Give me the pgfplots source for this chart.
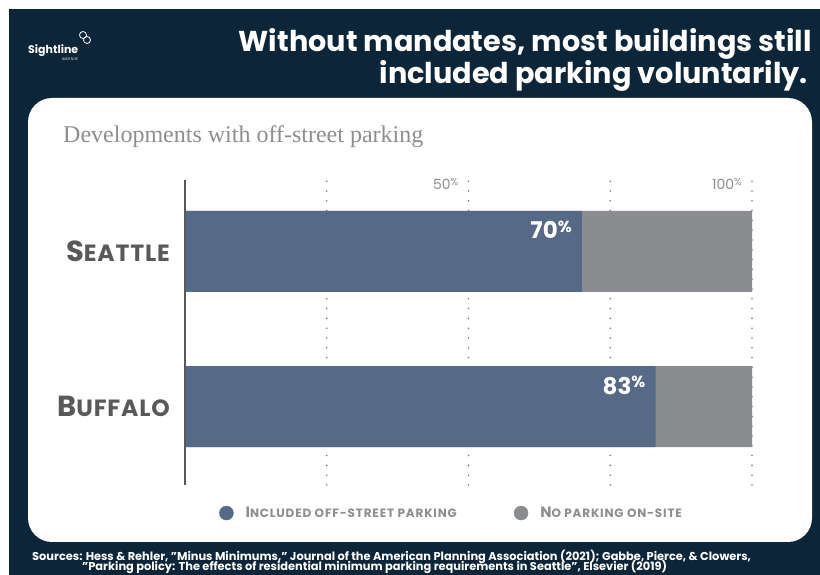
\documentclass[border=0pt]{standalone}
\usepackage{pgfplots}
\pgfplotsset{compat=1.18}
\usepackage{fontspec}
\setmainfont{Poppins}
\newfontfamily\serifont{Liberation Serif}
\definecolor{navy}{HTML}{0C2538}
\definecolor{barblue}{HTML}{566987}
\definecolor{bargray}{HTML}{8A8C90}
\definecolor{labgray}{HTML}{595959}
\definecolor{lightgray}{HTML}{8E8E8E}
\definecolor{gridc}{HTML}{7A7A7A}
\newcommand{\qq}{\symbol{34}}
\newcommand{\citylab}[2]{{\bfseries\addfontfeature{LetterSpace=3.5}\fontsize{29}{29}\selectfont #1\fontsize{23.5}{23.5}\selectfont #2}}
\newcommand{\legl}[2]{{\bfseries\addfontfeature{LetterSpace=7}\fontsize{15}{15}\selectfont #1\fontsize{12}{12}\selectfont #2}}
\begin{document}
\begin{tikzpicture}[x=1pt,y=1pt]
\fill[white] (0,0) rectangle (820,575);
\fill[navy] (9,0) rectangle (820,566);
\fill[white, rounded corners=24pt] (28,33) rectangle (812,477);
% title
\node[anchor=base east, white, inner sep=0pt, font=\fontsize{28.7}{30}\bfseries\selectfont] at (812,523) {Without mandates, most buildings still};
\node[anchor=base east, white, inner sep=0pt, font=\fontsize{28.7}{30}\bfseries\selectfont] at (808,491) {included parking voluntarily.};
% logo
\node[anchor=base west, white, inner sep=0pt, font=\fontsize{11}{11}\bfseries\selectfont] at (28,521) {Sightline};
\node[anchor=base west, white, inner sep=0pt, font=\fontsize{3.5}{4}\selectfont] at (62,514) {INSTITUTE};
\draw[white, line width=0.8pt] (83,540) circle (3.5) (87,535) circle (3.5);
% subtitle
\node[anchor=base west, lightgray, inner sep=0pt, font=\serifont\fontsize{24}{26}\selectfont] at (63,432) {Developments with off-street parking};
% sources
\node[anchor=base west, white, inner sep=0pt, font=\bfseries\fontsize{11.4}{12}\selectfont] at (32,14) {Sources: Hess \& Rehler, \qq Minus Minimums,\qq{} Journal of the American Planning Association (2021); Gabbe, Pierce, \& Clowers,};
\node[anchor=base west, white, inner sep=0pt, font=\bfseries\fontsize{11.4}{12}\selectfont] at (82,4) {\qq Parking policy: The effects of residential minimum parking requirements in Seattle\qq, Elsevier (2019)};
\begin{axis}[
  at={(185pt,90pt)}, anchor=south west, scale only axis,
  width=567pt, height=305pt,
  xbar, bar shift=0pt, bar width=0.5226,
  xmin=0, xmax=100, ymin=-0.506, ymax=1.461,
  axis line style={draw=none},
  xtick={25,50,75,100}, xticklabels={},
  xmajorgrids,
  major grid style={gridc, line width=1.8pt, dash pattern=on 0pt off 9.8pt, line cap=round},
  major tick length=0pt,
  ytick={0,1}, yticklabels={\citylab{B}{UFFALO},\citylab{S}{EATTLE}},
  yticklabel style={labgray, anchor=east, inner sep=0pt, xshift=-15pt},
  /pgf/number format/assume math mode=true,
  clip=false,
  legend columns=2,
  legend style={at={(0.06,-0.092)}, anchor=west, draw=none, fill=none, inner sep=0pt,
    font=\color{lightgray},
    /tikz/every odd column/.append style={column sep=10pt},
    /tikz/every even column/.append style={column sep=55pt}},
  legend cell align=left,
]
\addlegendimage{legend image code/.code={\fill[barblue] (0pt,0pt) circle (7pt);}}
\addlegendentry{\legl{I}{NCLUDED OFF-STREET PARKING}}
\addlegendimage{legend image code/.code={\fill[bargray] (0pt,0pt) circle (7pt);}}
\addlegendentry{\legl{N}{O PARKING ON-SITE}}
% total (100%) drawn in grey: remainder = no parking on-site
\addplot[fill=bargray, draw=none, forget plot] coordinates {(100,0) (100,1)};
% included off-street parking
\addplot[fill=barblue, draw=none, forget plot, point meta=explicit,
  nodes near coords={\pgfmathprintnumber{\pgfplotspointmeta}\raisebox{0.3em}{\fontsize{16}{16}\selectfont\%}},
  nodes near coords style={anchor=base east, white, font=\bfseries\fontsize{23}{23}\selectfont, xshift=-10pt, yshift=12.5pt, inner sep=0pt}]
  coordinates {(83,0) [83] (70,1) [70]};
\draw[labgray, line width=2.5pt] (axis cs:0,-0.506) -- (axis cs:0,1.461);
\node[anchor=base east, lightgray, inner sep=0pt, font=\fontsize{14}{14}\selectfont] at (axis cs:50,1.461) [xshift=-10pt, yshift=-10pt] {50\raisebox{0.3em}{\fontsize{10}{10}\selectfont\%}};
\node[anchor=base east, lightgray, inner sep=0pt, font=\fontsize{14}{14}\selectfont] at (axis cs:100,1.461) [xshift=-10pt, yshift=-10pt] {100\raisebox{0.3em}{\fontsize{10}{10}\selectfont\%}};
\end{axis}
\end{tikzpicture}
\end{document}
